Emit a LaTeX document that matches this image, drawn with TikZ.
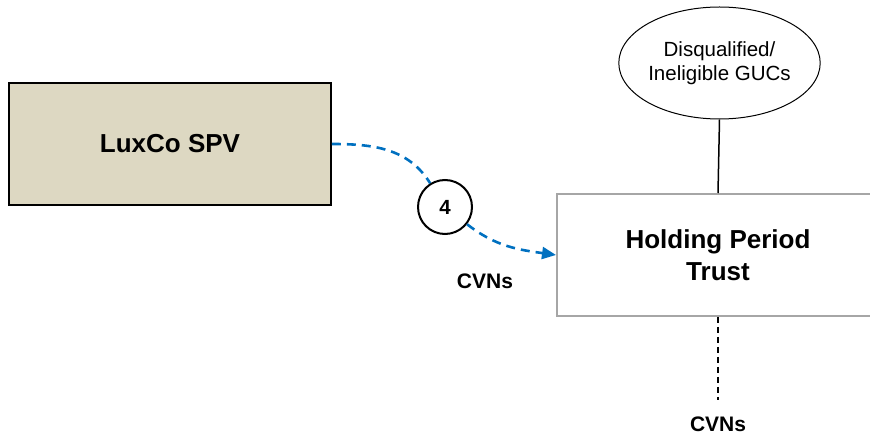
\documentclass[tikz,border=0pt]{standalone}
\usepackage{fontspec}
\setmainfont{Liberation Sans}
\usepackage{tikz}
\usetikzlibrary{arrows.meta}
\usetikzlibrary{shapes.geometric}
\definecolor{lux-fill}{HTML}{DDD8C2}
\definecolor{trust-edge}{HTML}{A6A6A6}
\definecolor{flow-blue}{HTML}{0070C0}

\begin{document}
\begin{tikzpicture}[x=1pt, y=1pt,
    entitybox/.style={rectangle, minimum width=322pt, minimum height=122pt, inner sep=0pt, align=center, font=\fontsize{26}{32}\selectfont\bfseries},
    holderoval/.style={ellipse, draw=black, line width=1pt, minimum width=195pt, minimum height=112pt, inner sep=0pt, align=center, font=\fontsize{20.5}{24}\selectfont},
    stepmark/.style={circle, draw=black, line width=2pt, minimum size=54pt, inner sep=0pt, font=\fontsize{20.5}{22}\selectfont\bfseries},
    flowlabel/.style={font=\fontsize{21}{22}\selectfont\bfseries, inner sep=0pt},
    cvnflow/.style={flow-blue, line width=2.6pt, dash pattern=on 9pt off 6pt, -{Triangle[length=14pt, width=12pt]}}
]

    % Fix the page size, and cut the trust box at the right edge
    \useasboundingbox (0, 0) rectangle (870, -435);
    \clip (0, 0) rectangle (870, -435);

    % Draw the entities
    \node[entitybox, fill=lux-fill, draw=black, line width=1.6pt] (lux) at (170, -144) {LuxCo SPV};
    \node[entitybox, fill=white, draw=trust-edge, line width=2pt] (hpt) at (718, -255) {Holding Period\\Trust};
    \node[holderoval] (gucs) at (719.5, -63) {Disqualified/\\Ineligible GUCs};

    % Step marker and labels
    \node[stepmark] (four) at (445, -207) {4};
    \node[flowlabel] (cvnA) at (485, -281) {CVNs};
    \node[flowlabel] (cvnB) at (718, -424) {CVNs};
    \coordinate (cvnEnd) at (718, -400);

    % Draw the connectors
    \draw[black, line width=1.5pt] (gucs.south) -- (hpt.north);
    \draw[black, line width=1.5pt, dash pattern=on 6pt off 4pt] (hpt.south) -- (cvnEnd);
    \draw[flow-blue, line width=2.6pt, dash pattern=on 9pt off 6pt] (lux.east) to[out=0, in=122] (four);
    \draw[cvnflow] (four) to[out=-38, in=172] (hpt.west);

\end{tikzpicture}
\end{document}
